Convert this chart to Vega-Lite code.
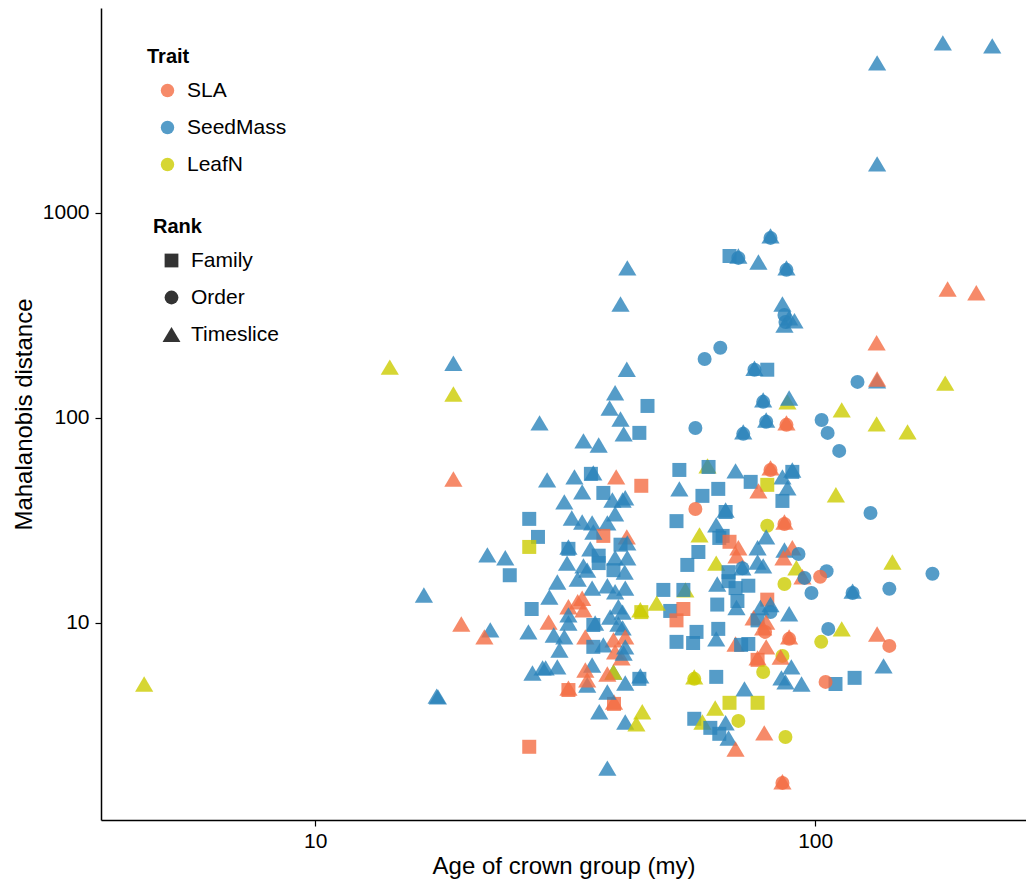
{
"$schema": "https://vega.github.io/schema/vega-lite/v6.json",
"width": 925, "height": 812,
"autosize": {"type": "none"},
"padding": {"left": 101, "top": 8, "right": 0, "bottom": 63},
"background": "white",
"config": {"view": {"stroke": null}, "font": "Liberation Sans"},
"data": {"values": [
{"age":180,"dist":6760,"Trait":"SeedMass","Rank":"Timeslice"},
{"age":226,"dist":6535,"Trait":"SeedMass","Rank":"Timeslice"},
{"age":133,"dist":5400,"Trait":"SeedMass","Rank":"Timeslice"},
{"age":133,"dist":1736,"Trait":"SeedMass","Rank":"Timeslice"},
{"age":184,"dist":426,"Trait":"SLA","Rank":"Timeslice"},
{"age":210,"dist":408,"Trait":"SLA","Rank":"Timeslice"},
{"age":132.7,"dist":233,"Trait":"SLA","Rank":"Timeslice"},
{"age":133,"dist":152,"Trait":"SeedMass","Rank":"Timeslice"},
{"age":133,"dist":155,"Trait":"SLA","Rank":"Timeslice"},
{"age":121.5,"dist":150,"Trait":"SeedMass","Rank":"Order"},
{"age":182,"dist":148,"Trait":"LeafN","Rank":"Timeslice"},
{"age":113,"dist":109.5,"Trait":"LeafN","Rank":"Timeslice"},
{"age":103,"dist":97.8,"Trait":"SeedMass","Rank":"Order"},
{"age":105.9,"dist":84.6,"Trait":"SeedMass","Rank":"Order"},
{"age":132.7,"dist":93.6,"Trait":"LeafN","Rank":"Timeslice"},
{"age":153,"dist":85.6,"Trait":"LeafN","Rank":"Timeslice"},
{"age":111.7,"dist":69.1,"Trait":"SeedMass","Rank":"Order"},
{"age":110,"dist":42.2,"Trait":"LeafN","Rank":"Timeslice"},
{"age":129,"dist":34.4,"Trait":"SeedMass","Rank":"Order"},
{"age":171.6,"dist":17.4,"Trait":"SeedMass","Rank":"Order"},
{"age":142.7,"dist":19.85,"Trait":"LeafN","Rank":"Timeslice"},
{"age":140.7,"dist":14.7,"Trait":"SeedMass","Rank":"Order"},
{"age":118.8,"dist":14.3,"Trait":"SeedMass","Rank":"Timeslice"},
{"age":118.8,"dist":14.0,"Trait":"SeedMass","Rank":"Order"},
{"age":133,"dist":8.84,"Trait":"SLA","Rank":"Timeslice"},
{"age":140.7,"dist":7.73,"Trait":"SLA","Rank":"Order"},
{"age":137,"dist":6.18,"Trait":"SeedMass","Rank":"Timeslice"},
{"age":119.9,"dist":5.40,"Trait":"SeedMass","Rank":"Family"},
{"age":109.8,"dist":5.04,"Trait":"SeedMass","Rank":"Family"},
{"age":104.9,"dist":5.16,"Trait":"SLA","Rank":"Order"},
{"age":113,"dist":9.36,"Trait":"LeafN","Rank":"Timeslice"},
{"age":106.2,"dist":9.36,"Trait":"SeedMass","Rank":"Order"},
{"age":102.8,"dist":8.09,"Trait":"LeafN","Rank":"Order"},
{"age":81.4,"dist":773,"Trait":"SeedMass","Rank":"Timeslice"},
{"age":81.4,"dist":756,"Trait":"SeedMass","Rank":"Order"},
{"age":67.4,"dist":617,"Trait":"SeedMass","Rank":"Family"},
{"age":70.2,"dist":617,"Trait":"SeedMass","Rank":"Timeslice"},
{"age":70.2,"dist":604,"Trait":"SeedMass","Rank":"Order"},
{"age":77.0,"dist":577,"Trait":"SeedMass","Rank":"Timeslice"},
{"age":87.6,"dist":540,"Trait":"SeedMass","Rank":"Timeslice"},
{"age":87.6,"dist":528,"Trait":"SeedMass","Rank":"Order"},
{"age":86.0,"dist":360,"Trait":"SeedMass","Rank":"Timeslice"},
{"age":86.8,"dist":318,"Trait":"SeedMass","Rank":"Order"},
{"age":88.7,"dist":308,"Trait":"SeedMass","Rank":"Timeslice"},
{"age":90.9,"dist":298,"Trait":"SeedMass","Rank":"Timeslice"},
{"age":87.2,"dist":294,"Trait":"SeedMass","Rank":"Order"},
{"age":86.8,"dist":284,"Trait":"SeedMass","Rank":"Timeslice"},
{"age":64.6,"dist":220,"Trait":"SeedMass","Rank":"Order"},
{"age":60.1,"dist":194,"Trait":"SeedMass","Rank":"Order"},
{"age":75.6,"dist":175,"Trait":"SeedMass","Rank":"Timeslice"},
{"age":75.6,"dist":172,"Trait":"SeedMass","Rank":"Order"},
{"age":80.2,"dist":172,"Trait":"SeedMass","Rank":"Family"},
{"age":78.7,"dist":122.6,"Trait":"SeedMass","Rank":"Timeslice"},
{"age":78.7,"dist":119.9,"Trait":"SeedMass","Rank":"Order"},
{"age":88.0,"dist":119.9,"Trait":"LeafN","Rank":"Timeslice"},
{"age":88.7,"dist":125.2,"Trait":"SeedMass","Rank":"Timeslice"},
{"age":79.8,"dist":97.8,"Trait":"SeedMass","Rank":"Timeslice"},
{"age":79.8,"dist":95.8,"Trait":"SeedMass","Rank":"Order"},
{"age":87.6,"dist":94.7,"Trait":"SLA","Rank":"Timeslice"},
{"age":87.6,"dist":92.6,"Trait":"SLA","Rank":"Order"},
{"age":57.6,"dist":89.4,"Trait":"SeedMass","Rank":"Order"},
{"age":71.8,"dist":85.6,"Trait":"SeedMass","Rank":"Timeslice"},
{"age":71.8,"dist":83.7,"Trait":"SeedMass","Rank":"Order"},
{"age":53.5,"dist":55.8,"Trait":"SeedMass","Rank":"Family"},
{"age":60.9,"dist":58.4,"Trait":"LeafN","Rank":"Timeslice"},
{"age":61.2,"dist":57.7,"Trait":"SeedMass","Rank":"Family"},
{"age":69.3,"dist":55.2,"Trait":"SeedMass","Rank":"Timeslice"},
{"age":81.4,"dist":57.1,"Trait":"SLA","Rank":"Timeslice"},
{"age":81.4,"dist":55.8,"Trait":"SLA","Rank":"Order"},
{"age":90.0,"dist":54.6,"Trait":"SeedMass","Rank":"Family"},
{"age":90.0,"dist":55.8,"Trait":"SeedMass","Rank":"Timeslice"},
{"age":86.0,"dist":51.6,"Trait":"SeedMass","Rank":"Timeslice"},
{"age":74.3,"dist":48.8,"Trait":"SeedMass","Rank":"Family"},
{"age":80.2,"dist":47.2,"Trait":"LeafN","Rank":"Family"},
{"age":53.5,"dist":45.1,"Trait":"SeedMass","Rank":"Timeslice"},
{"age":64.0,"dist":45.1,"Trait":"SeedMass","Rank":"Family"},
{"age":77.0,"dist":44.1,"Trait":"SLA","Rank":"Timeslice"},
{"age":88.0,"dist":45.6,"Trait":"SeedMass","Rank":"Timeslice"},
{"age":59.5,"dist":41.7,"Trait":"SeedMass","Rank":"Family"},
{"age":86.0,"dist":39.4,"Trait":"SeedMass","Rank":"Family"},
{"age":57.6,"dist":36.0,"Trait":"SLA","Rank":"Order"},
{"age":66.2,"dist":35.6,"Trait":"SeedMass","Rank":"Timeslice"},
{"age":66.2,"dist":34.8,"Trait":"SeedMass","Rank":"Family"},
{"age":86.8,"dist":31.1,"Trait":"SLA","Rank":"Timeslice"},
{"age":86.8,"dist":30.4,"Trait":"SLA","Rank":"Order"},
{"age":80.2,"dist":29.8,"Trait":"LeafN","Rank":"Order"},
{"age":63.4,"dist":30.1,"Trait":"SeedMass","Rank":"Timeslice"},
{"age":52.8,"dist":31.4,"Trait":"SeedMass","Rank":"Family"},
{"age":58.7,"dist":26.9,"Trait":"LeafN","Rank":"Timeslice"},
{"age":79.8,"dist":26.3,"Trait":"SeedMass","Rank":"Timeslice"},
{"age":65.3,"dist":26.6,"Trait":"SeedMass","Rank":"Family"},
{"age":64.3,"dist":26.0,"Trait":"SeedMass","Rank":"Family"},
{"age":67.4,"dist":24.9,"Trait":"SLA","Rank":"Family"},
{"age":70.2,"dist":23.3,"Trait":"SLA","Rank":"Timeslice"},
{"age":76.7,"dist":23.3,"Trait":"SeedMass","Rank":"Timeslice"},
{"age":86.8,"dist":22.7,"Trait":"SeedMass","Rank":"Timeslice"},
{"age":90.0,"dist":23.3,"Trait":"SLA","Rank":"Timeslice"},
{"age":92.6,"dist":21.7,"Trait":"SeedMass","Rank":"Order"},
{"age":69.6,"dist":21.3,"Trait":"SLA","Rank":"Timeslice"},
{"age":58.4,"dist":22.2,"Trait":"SeedMass","Rank":"Family"},
{"age":86.4,"dist":20.8,"Trait":"SLA","Rank":"Timeslice"},
{"age":76.7,"dist":19.85,"Trait":"SeedMass","Rank":"Timeslice"},
{"age":55.5,"dist":19.2,"Trait":"SeedMass","Rank":"Family"},
{"age":63.4,"dist":19.6,"Trait":"LeafN","Rank":"Timeslice"},
{"age":71.5,"dist":18.6,"Trait":"SeedMass","Rank":"Timeslice"},
{"age":71.5,"dist":18.5,"Trait":"SeedMass","Rank":"Order"},
{"age":78.7,"dist":19.0,"Trait":"SeedMass","Rank":"Timeslice"},
{"age":91.7,"dist":18.6,"Trait":"LeafN","Rank":"Timeslice"},
{"age":105.4,"dist":17.9,"Trait":"SeedMass","Rank":"Order"},
{"age":94.3,"dist":16.8,"Trait":"SLA","Rank":"Timeslice"},
{"age":95.2,"dist":16.6,"Trait":"SeedMass","Rank":"Order"},
{"age":102.3,"dist":16.8,"Trait":"SLA","Rank":"Order"},
{"age":67.1,"dist":17.7,"Trait":"SeedMass","Rank":"Family"},
{"age":67.1,"dist":16.0,"Trait":"SeedMass","Rank":"Family"},
{"age":63.7,"dist":15.5,"Trait":"SeedMass","Rank":"Timeslice"},
{"age":69.3,"dist":14.8,"Trait":"SeedMass","Rank":"Family"},
{"age":86.8,"dist":15.5,"Trait":"LeafN","Rank":"Order"},
{"age":73.5,"dist":15.2,"Trait":"SeedMass","Rank":"Family"},
{"age":49.7,"dist":14.5,"Trait":"SeedMass","Rank":"Family"},
{"age":55.0,"dist":14.5,"Trait":"LeafN","Rank":"Timeslice"},
{"age":54.5,"dist":14.5,"Trait":"SeedMass","Rank":"Family"},
{"age":98.3,"dist":14.0,"Trait":"SeedMass","Rank":"Order"},
{"age":69.9,"dist":12.8,"Trait":"SeedMass","Rank":"Family"},
{"age":80.2,"dist":13.0,"Trait":"SLA","Rank":"Family"},
{"age":81.4,"dist":12.3,"Trait":"SeedMass","Rank":"Timeslice"},
{"age":81.4,"dist":11.3,"Trait":"SeedMass","Rank":"Order"},
{"age":63.7,"dist":12.3,"Trait":"SeedMass","Rank":"Family"},
{"age":51.3,"dist":11.45,"Trait":"SeedMass","Rank":"Family"},
{"age":54.5,"dist":11.7,"Trait":"SLA","Rank":"Family"},
{"age":69.6,"dist":11.9,"Trait":"SeedMass","Rank":"Timeslice"},
{"age":77.7,"dist":11.9,"Trait":"SeedMass","Rank":"Timeslice"},
{"age":88.7,"dist":11.1,"Trait":"SeedMass","Rank":"Timeslice"},
{"age":75.3,"dist":10.6,"Trait":"SLA","Rank":"Timeslice"},
{"age":76.7,"dist":10.3,"Trait":"SeedMass","Rank":"Family"},
{"age":52.8,"dist":10.3,"Trait":"SLA","Rank":"Family"},
{"age":79.8,"dist":10.1,"Trait":"SLA","Rank":"Timeslice"},
{"age":78.7,"dist":9.47,"Trait":"SLA","Rank":"Timeslice"},
{"age":79.4,"dist":9.05,"Trait":"SLA","Rank":"Order"},
{"age":57.9,"dist":9.05,"Trait":"SeedMass","Rank":"Family"},
{"age":64.0,"dist":9.36,"Trait":"SeedMass","Rank":"Family"},
{"age":88.7,"dist":8.56,"Trait":"SLA","Rank":"Timeslice"},
{"age":88.7,"dist":8.37,"Trait":"SLA","Rank":"Order"},
{"age":63.4,"dist":8.37,"Trait":"SeedMass","Rank":"Timeslice"},
{"age":52.8,"dist":8.09,"Trait":"SeedMass","Rank":"Family"},
{"age":57.0,"dist":7.99,"Trait":"SeedMass","Rank":"Family"},
{"age":69.3,"dist":7.90,"Trait":"SLA","Rank":"Timeslice"},
{"age":73.5,"dist":7.90,"Trait":"SeedMass","Rank":"Family"},
{"age":71.1,"dist":7.82,"Trait":"SeedMass","Rank":"Family"},
{"age":79.8,"dist":7.65,"Trait":"SLA","Rank":"Timeslice"},
{"age":86.0,"dist":6.91,"Trait":"LeafN","Rank":"Order"},
{"age":85.3,"dist":6.83,"Trait":"SLA","Rank":"Timeslice"},
{"age":76.7,"dist":6.76,"Trait":"SLA","Rank":"Timeslice"},
{"age":76.7,"dist":6.61,"Trait":"SLA","Rank":"Family"},
{"age":89.6,"dist":6.11,"Trait":"SeedMass","Rank":"Timeslice"},
{"age":78.7,"dist":5.77,"Trait":"LeafN","Rank":"Order"},
{"age":57.3,"dist":5.46,"Trait":"LeafN","Rank":"Timeslice"},
{"age":57.3,"dist":5.34,"Trait":"LeafN","Rank":"Order"},
{"age":63.4,"dist":5.46,"Trait":"SeedMass","Rank":"Family"},
{"age":85.6,"dist":5.40,"Trait":"SeedMass","Rank":"Timeslice"},
{"age":87.2,"dist":5.16,"Trait":"SeedMass","Rank":"Timeslice"},
{"age":93.9,"dist":5.04,"Trait":"SeedMass","Rank":"Timeslice"},
{"age":72.2,"dist":4.77,"Trait":"SeedMass","Rank":"Timeslice"},
{"age":67.4,"dist":4.08,"Trait":"LeafN","Rank":"Family"},
{"age":76.7,"dist":4.08,"Trait":"LeafN","Rank":"Family"},
{"age":63.1,"dist":3.85,"Trait":"LeafN","Rank":"Timeslice"},
{"age":57.3,"dist":3.41,"Trait":"SeedMass","Rank":"Family"},
{"age":59.5,"dist":3.29,"Trait":"LeafN","Rank":"Timeslice"},
{"age":66.2,"dist":3.26,"Trait":"SeedMass","Rank":"Timeslice"},
{"age":70.2,"dist":3.33,"Trait":"LeafN","Rank":"Order"},
{"age":61.7,"dist":3.08,"Trait":"SeedMass","Rank":"Family"},
{"age":64.3,"dist":2.88,"Trait":"SeedMass","Rank":"Family"},
{"age":67.1,"dist":2.75,"Trait":"SeedMass","Rank":"Timeslice"},
{"age":79.1,"dist":2.91,"Trait":"SLA","Rank":"Timeslice"},
{"age":87.2,"dist":2.78,"Trait":"LeafN","Rank":"Order"},
{"age":69.3,"dist":2.43,"Trait":"SLA","Rank":"Timeslice"},
{"age":86.0,"dist":1.68,"Trait":"SLA","Rank":"Timeslice"},
{"age":86.0,"dist":1.66,"Trait":"SLA","Rank":"Order"},
{"age":48.2,"dist":12.5,"Trait":"LeafN","Rank":"Timeslice"},
{"age":44.9,"dist":11.3,"Trait":"LeafN","Rank":"Family"},
{"age":44.7,"dist":11.6,"Trait":"LeafN","Rank":"Timeslice"},
{"age":44.5,"dist":5.34,"Trait":"SeedMass","Rank":"Family"},
{"age":44.7,"dist":5.52,"Trait":"SeedMass","Rank":"Timeslice"},
{"age":41.7,"dist":5.10,"Trait":"SeedMass","Rank":"Timeslice"},
{"age":39.5,"dist":5.77,"Trait":"SeedMass","Rank":"Timeslice"},
{"age":39.5,"dist":5.77,"Trait":"LeafN","Rank":"Timeslice"},
{"age":39.6,"dist":4.03,"Trait":"SLA","Rank":"Family"},
{"age":39.6,"dist":4.12,"Trait":"SLA","Rank":"Timeslice"},
{"age":37.0,"dist":3.69,"Trait":"SeedMass","Rank":"Timeslice"},
{"age":41.7,"dist":3.29,"Trait":"SeedMass","Rank":"Timeslice"},
{"age":45.1,"dist":3.69,"Trait":"LeafN","Rank":"Timeslice"},
{"age":43.9,"dist":3.22,"Trait":"LeafN","Rank":"Timeslice"},
{"age":38.4,"dist":1.96,"Trait":"SeedMass","Rank":"Timeslice"},
{"age":28.1,"dist":94.7,"Trait":"SeedMass","Rank":"Timeslice"},
{"age":42.0,"dist":173,"Trait":"SeedMass","Rank":"Timeslice"},
{"age":39.8,"dist":132.7,"Trait":"SeedMass","Rank":"Timeslice"},
{"age":46.2,"dist":114.5,"Trait":"SeedMass","Rank":"Family"},
{"age":38.8,"dist":111.9,"Trait":"SeedMass","Rank":"Timeslice"},
{"age":40.8,"dist":98.9,"Trait":"SeedMass","Rank":"Timeslice"},
{"age":41.4,"dist":83.7,"Trait":"SeedMass","Rank":"Timeslice"},
{"age":44.5,"dist":84.6,"Trait":"SeedMass","Rank":"Family"},
{"age":34.4,"dist":77.3,"Trait":"SeedMass","Rank":"Timeslice"},
{"age":36.9,"dist":73.9,"Trait":"SeedMass","Rank":"Timeslice"},
{"age":35.6,"dist":53.4,"Trait":"SeedMass","Rank":"Family"},
{"age":36.0,"dist":54.0,"Trait":"SeedMass","Rank":"Timeslice"},
{"age":40.0,"dist":51.6,"Trait":"SLA","Rank":"Timeslice"},
{"age":44.9,"dist":46.7,"Trait":"SLA","Rank":"Family"},
{"age":29.1,"dist":49.9,"Trait":"SeedMass","Rank":"Timeslice"},
{"age":33.0,"dist":51.6,"Trait":"SeedMass","Rank":"Timeslice"},
{"age":34.2,"dist":43.6,"Trait":"SeedMass","Rank":"Timeslice"},
{"age":37.7,"dist":43.1,"Trait":"SeedMass","Rank":"Family"},
{"age":41.7,"dist":40.8,"Trait":"SeedMass","Rank":"Timeslice"},
{"age":41.2,"dist":39.8,"Trait":"SeedMass","Rank":"Timeslice"},
{"age":39.3,"dist":39.8,"Trait":"SeedMass","Rank":"Timeslice"},
{"age":31.5,"dist":39.0,"Trait":"SeedMass","Rank":"Timeslice"},
{"age":39.8,"dist":34.1,"Trait":"SeedMass","Rank":"Timeslice"},
{"age":32.6,"dist":32.5,"Trait":"SeedMass","Rank":"Timeslice"},
{"age":34.2,"dist":31.1,"Trait":"SeedMass","Rank":"Timeslice"},
{"age":35.8,"dist":30.8,"Trait":"SeedMass","Rank":"Timeslice"},
{"age":38.4,"dist":30.8,"Trait":"SeedMass","Rank":"Timeslice"},
{"age":26.8,"dist":32.2,"Trait":"SeedMass","Rank":"Family"},
{"age":27.9,"dist":26.3,"Trait":"SeedMass","Rank":"Family"},
{"age":26.8,"dist":23.5,"Trait":"LeafN","Rank":"Family"},
{"age":37.7,"dist":26.6,"Trait":"SLA","Rank":"Family"},
{"age":42.0,"dist":26.3,"Trait":"SLA","Rank":"Timeslice"},
{"age":36.0,"dist":27.8,"Trait":"SeedMass","Rank":"Timeslice"},
{"age":42.1,"dist":24.6,"Trait":"SeedMass","Rank":"Timeslice"},
{"age":40.8,"dist":24.1,"Trait":"SeedMass","Rank":"Family"},
{"age":32.1,"dist":23.5,"Trait":"SeedMass","Rank":"Timeslice"},
{"age":32.1,"dist":23.0,"Trait":"SeedMass","Rank":"Family"},
{"age":35.5,"dist":23.0,"Trait":"SeedMass","Rank":"Timeslice"},
{"age":36.9,"dist":21.3,"Trait":"SeedMass","Rank":"Family"},
{"age":36.9,"dist":19.6,"Trait":"SeedMass","Rank":"Family"},
{"age":42.1,"dist":20.8,"Trait":"SeedMass","Rank":"Timeslice"},
{"age":39.8,"dist":20.8,"Trait":"SeedMass","Rank":"Timeslice"},
{"age":31.9,"dist":19.6,"Trait":"SeedMass","Rank":"Timeslice"},
{"age":34.4,"dist":19.0,"Trait":"SeedMass","Rank":"Timeslice"},
{"age":35.0,"dist":18.1,"Trait":"SeedMass","Rank":"Timeslice"},
{"age":39.5,"dist":18.1,"Trait":"SeedMass","Rank":"Family"},
{"age":41.6,"dist":17.7,"Trait":"SeedMass","Rank":"Timeslice"},
{"age":22.1,"dist":21.5,"Trait":"SeedMass","Rank":"Timeslice"},
{"age":24.0,"dist":20.8,"Trait":"SeedMass","Rank":"Timeslice"},
{"age":24.5,"dist":17.1,"Trait":"SeedMass","Rank":"Family"},
{"age":30.5,"dist":15.85,"Trait":"SeedMass","Rank":"Timeslice"},
{"age":33.5,"dist":16.4,"Trait":"SeedMass","Rank":"Timeslice"},
{"age":35.8,"dist":14.8,"Trait":"SeedMass","Rank":"Timeslice"},
{"age":38.4,"dist":15.2,"Trait":"SeedMass","Rank":"Timeslice"},
{"age":39.8,"dist":14.2,"Trait":"SeedMass","Rank":"Timeslice"},
{"age":41.7,"dist":14.8,"Trait":"SeedMass","Rank":"Timeslice"},
{"age":16.5,"dist":13.7,"Trait":"SeedMass","Rank":"Timeslice"},
{"age":29.4,"dist":13.4,"Trait":"SeedMass","Rank":"Timeslice"},
{"age":32.1,"dist":12.0,"Trait":"SLA","Rank":"Timeslice"},
{"age":33.5,"dist":12.7,"Trait":"SLA","Rank":"Timeslice"},
{"age":34.2,"dist":13.2,"Trait":"SLA","Rank":"Timeslice"},
{"age":34.4,"dist":11.6,"Trait":"SLA","Rank":"Timeslice"},
{"age":27.1,"dist":11.7,"Trait":"SeedMass","Rank":"Family"},
{"age":40.4,"dist":12.0,"Trait":"SeedMass","Rank":"Timeslice"},
{"age":41.2,"dist":11.3,"Trait":"SeedMass","Rank":"Timeslice"},
{"age":29.3,"dist":10.1,"Trait":"SLA","Rank":"Timeslice"},
{"age":26.7,"dist":9.05,"Trait":"SeedMass","Rank":"Timeslice"},
{"age":32.1,"dist":10.95,"Trait":"SeedMass","Rank":"Timeslice"},
{"age":32.1,"dist":10.0,"Trait":"SeedMass","Rank":"Timeslice"},
{"age":36.3,"dist":10.0,"Trait":"SeedMass","Rank":"Timeslice"},
{"age":36.0,"dist":9.78,"Trait":"SeedMass","Rank":"Family"},
{"age":38.9,"dist":10.7,"Trait":"SeedMass","Rank":"Timeslice"},
{"age":40.4,"dist":9.89,"Trait":"SeedMass","Rank":"Timeslice"},
{"age":41.2,"dist":9.47,"Trait":"SeedMass","Rank":"Timeslice"},
{"age":34.7,"dist":8.56,"Trait":"SLA","Rank":"Timeslice"},
{"age":39.5,"dist":8.27,"Trait":"SLA","Rank":"Timeslice"},
{"age":41.7,"dist":8.56,"Trait":"SLA","Rank":"Timeslice"},
{"age":19.6,"dist":9.89,"Trait":"SLA","Rank":"Timeslice"},
{"age":22.4,"dist":9.26,"Trait":"SeedMass","Rank":"Timeslice"},
{"age":21.8,"dist":8.56,"Trait":"SLA","Rank":"Timeslice"},
{"age":30.0,"dist":8.74,"Trait":"SeedMass","Rank":"Timeslice"},
{"age":31.5,"dist":8.56,"Trait":"SeedMass","Rank":"Timeslice"},
{"age":36.0,"dist":7.65,"Trait":"SeedMass","Rank":"Family"},
{"age":37.7,"dist":7.82,"Trait":"SeedMass","Rank":"Timeslice"},
{"age":39.8,"dist":7.23,"Trait":"SLA","Rank":"Timeslice"},
{"age":41.0,"dist":6.76,"Trait":"SLA","Rank":"Timeslice"},
{"age":41.4,"dist":7.14,"Trait":"SeedMass","Rank":"Timeslice"},
{"age":41.7,"dist":7.65,"Trait":"SeedMass","Rank":"Timeslice"},
{"age":30.8,"dist":7.39,"Trait":"SeedMass","Rank":"Timeslice"},
{"age":27.2,"dist":5.70,"Trait":"SeedMass","Rank":"Timeslice"},
{"age":28.5,"dist":6.04,"Trait":"SeedMass","Rank":"Timeslice"},
{"age":28.9,"dist":6.04,"Trait":"SeedMass","Rank":"Timeslice"},
{"age":30.5,"dist":6.11,"Trait":"SeedMass","Rank":"Timeslice"},
{"age":35.8,"dist":6.24,"Trait":"SeedMass","Rank":"Timeslice"},
{"age":34.7,"dist":5.90,"Trait":"SLA","Rank":"Timeslice"},
{"age":35.0,"dist":4.98,"Trait":"SeedMass","Rank":"Timeslice"},
{"age":35.0,"dist":5.28,"Trait":"SLA","Rank":"Timeslice"},
{"age":32.1,"dist":4.71,"Trait":"SLA","Rank":"Family"},
{"age":32.1,"dist":4.81,"Trait":"SLA","Rank":"Timeslice"},
{"age":38.4,"dist":4.61,"Trait":"SeedMass","Rank":"Timeslice"},
{"age":38.4,"dist":5.64,"Trait":"SLA","Rank":"Timeslice"},
{"age":17.6,"dist":4.36,"Trait":"SeedMass","Rank":"Timeslice"},
{"age":17.5,"dist":4.4,"Trait":"SeedMass","Rank":"Timeslice"},
{"age":26.8,"dist":2.49,"Trait":"SLA","Rank":"Family"},
{"age":18.9,"dist":50.4,"Trait":"SLA","Rank":"Timeslice"},
{"age":14.1,"dist":177,"Trait":"LeafN","Rank":"Timeslice"},
{"age":18.9,"dist":185,"Trait":"SeedMass","Rank":"Timeslice"},
{"age":18.9,"dist":131,"Trait":"LeafN","Rank":"Timeslice"},
{"age":4.55,"dist":5.04,"Trait":"LeafN","Rank":"Timeslice"},
{"age":42.1,"dist":540,"Trait":"SeedMass","Rank":"Timeslice"},
{"age":40.8,"dist":360,"Trait":"SeedMass","Rank":"Timeslice"}
]},
"mark": {"type": "point", "filled": true, "opacity": 0.8, "strokeWidth": 0, "size": 196},
"encoding": {
"x": {"field": "age", "type": "quantitative",
  "scale": {"type": "log", "domain": [3.73, 264], "nice": false},
  "axis": {"values": [10, 100], "format": "d", "title": "Age of crown group (my)", "grid": false,
    "domainColor": "#000", "domainWidth": 1.5, "tickColor": "#000", "tickWidth": 1.2, "tickSize": 6,
    "labelFontSize": 21, "labelColor": "#000", "labelPadding": 4,
    "titleFontSize": 24, "titleFontWeight": "normal", "titleColor": "#000", "titlePadding": 3}},
"y": {"field": "dist", "type": "quantitative",
  "scale": {"type": "log", "domain": [1.094, 10000], "nice": false},
  "axis": {"values": [10, 100, 1000], "format": "d", "title": "Mahalanobis distance", "grid": false,
    "domainColor": "#000", "domainWidth": 1.5, "tickColor": "#000", "tickWidth": 1.2, "tickSize": 6,
    "labelFontSize": 21, "labelColor": "#000", "labelPadding": 6,
    "titleFontSize": 24, "titleFontWeight": "normal", "titleColor": "#000", "titlePadding": 6}},
"color": {"field": "Trait", "type": "nominal",
  "scale": {"domain": ["SLA", "SeedMass", "LeafN"], "range": ["#F46D43", "#2B83BA", "#CCCC00"]},
  "legend": {"orient": "none", "legendX": 46, "legendY": 39, "title": "Trait", "padding": 0,
    "titleFontSize": 20, "titleFontWeight": "bold", "titleColor": "#000", "titlePadding": 13,
    "labelFontSize": 21, "labelColor": "#000", "labelOffset": 9,
    "symbolType": "circle", "symbolSize": 180, "symbolOpacity": 0.8, "symbolStrokeWidth": 0,
    "symbolOffset": 10, "rowPadding": 15}},
"shape": {"field": "Rank", "type": "nominal",
  "scale": {"domain": ["Family", "Order", "Timeslice"], "range": ["square", "circle", "M0,-1.1L1.3,1.1L-1.3,1.1Z"]},
  "legend": {"orient": "none", "legendX": 52, "legendY": 209, "title": "Rank", "padding": 0,
    "titleFontSize": 20, "titleFontWeight": "bold", "titleColor": "#000", "titlePadding": 13,
    "labelFontSize": 21, "labelColor": "#000", "labelOffset": 9,
    "symbolSize": 190, "symbolFillColor": "#000", "symbolOpacity": 0.8, "symbolStrokeWidth": 0,
    "symbolOffset": 8, "rowPadding": 15}}
}
}
